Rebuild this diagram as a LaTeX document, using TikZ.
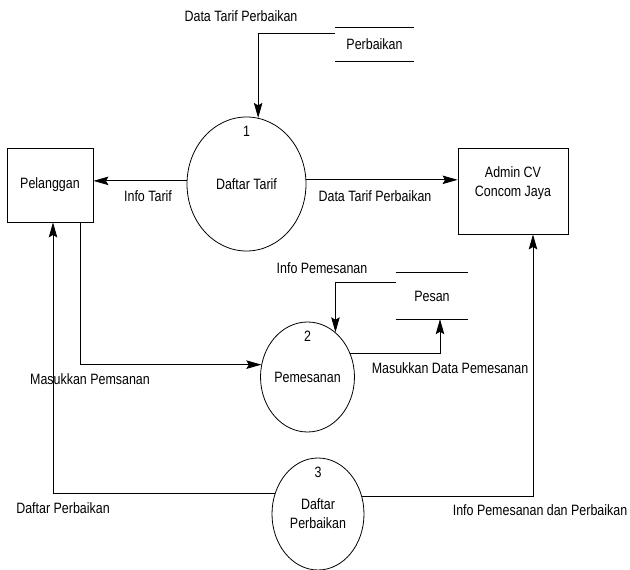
\documentclass[tikz,border=0pt]{standalone}
\usepackage{fontspec}
\setmainfont[FakeStretch=0.83]{Liberation Sans}
\usetikzlibrary{arrows.meta,shapes.geometric,positioning}

\begin{document}
\begin{tikzpicture}[x=1pt, y=-1pt, font=\fontsize{15}{19}\selectfont]
			\tikzset{entitas/.style={rectangle, draw=black, line width=0.9pt, inner sep=0pt},
			proses/.style={ellipse, draw=black, line width=0.8pt, inner sep=0pt, align=center},
			simpan/.style={rectangle, inner sep=0pt},
			panah/.style={-{Stealth[length=15pt, width=8.5pt, inset=2.5pt]}, line width=0.8pt}};

			\useasboundingbox (0,0) rectangle (630,570);

			% entitas luar
			\node[entitas, minimum width=86pt, minimum height=74pt] (pelanggan) at (50,185) {Pelanggan};
			\node[entitas, minimum width=110pt, minimum height=86pt] (admin) at (513,191) {};
			\node[align=center] (admin-teks) at ([yshift=8pt]admin.center) {Admin CV\\Concom Jaya};

			% proses
			\foreach \nama/\x/\y/\lebar/\tinggi/\no/\teks in {p1/246.5/184/119/134/1/{Daftar Tarif},
				p2/307.5/377/85/110/2/{Pemesanan}, p3/318/514/92/112/3/{Daftar\\Perbaikan}}{
					\node[proses, minimum width=\lebar pt, minimum height=\tinggi pt] (\nama) at (\x, \y) {\teks};
					\node (\nama-no) at ([yshift=-15pt]\nama.north) {\no};
			}

			% data store
			\foreach \nama/\x/\y/\lebar/\tinggi/\teks in {s1/374.5/44.5/79/33/Perbaikan, s2/432/296/72/46/Pesan}{
				\node[simpan, minimum width=\lebar pt, minimum height=\tinggi pt] (\nama) at (\x, \y) {\teks};
				\draw[line width=0.8pt] (\nama.north west) -- (\nama.north east);
				\draw[line width=0.8pt] (\nama.south west) -- (\nama.south east);
			}

			% aliran data
			\draw[panah] ([yshift=11.5pt]s1.west) -| (p1.80);
			\draw[panah] (p1.177) -- (pelanggan.east |- p1.177);
			\draw[panah] (p1.4) -- (admin.west |- p1.4);
			\draw[panah] ([xshift=30pt]pelanggan.south) |- (p2.165);
			\draw[panah] ([yshift=14pt]s2.west) -| (p2.58);
			\draw[panah] (p2.29) -| ([xshift=8pt]s2.south);
			\draw[panah] (p3.154) -| ([xshift=3pt]pelanggan.south);
			\draw[panah] (p3.22) -| ([xshift=20pt]admin.south);

			% label aliran
			\node (l-s1) at (241,16) {Data Tarif Perbaikan};
			\node (l-info) at (148,196) {Info Tarif};
			\node (l-admin) at (375,196) {Data Tarif Perbaikan};
			\node (l-masuk) at (90,379) {Masukkan Pemsanan};
			\node (l-pesan) at (322,268) {Info Pemesanan};
			\node (l-data) at (450,368) {Masukkan Data Pemesanan};
			\node (l-daftar) at (63,508) {Daftar Perbaikan};
			\node (l-infopp) at (540,510) {Info Pemesanan dan Perbaikan};

		\end{tikzpicture}
\end{document}
